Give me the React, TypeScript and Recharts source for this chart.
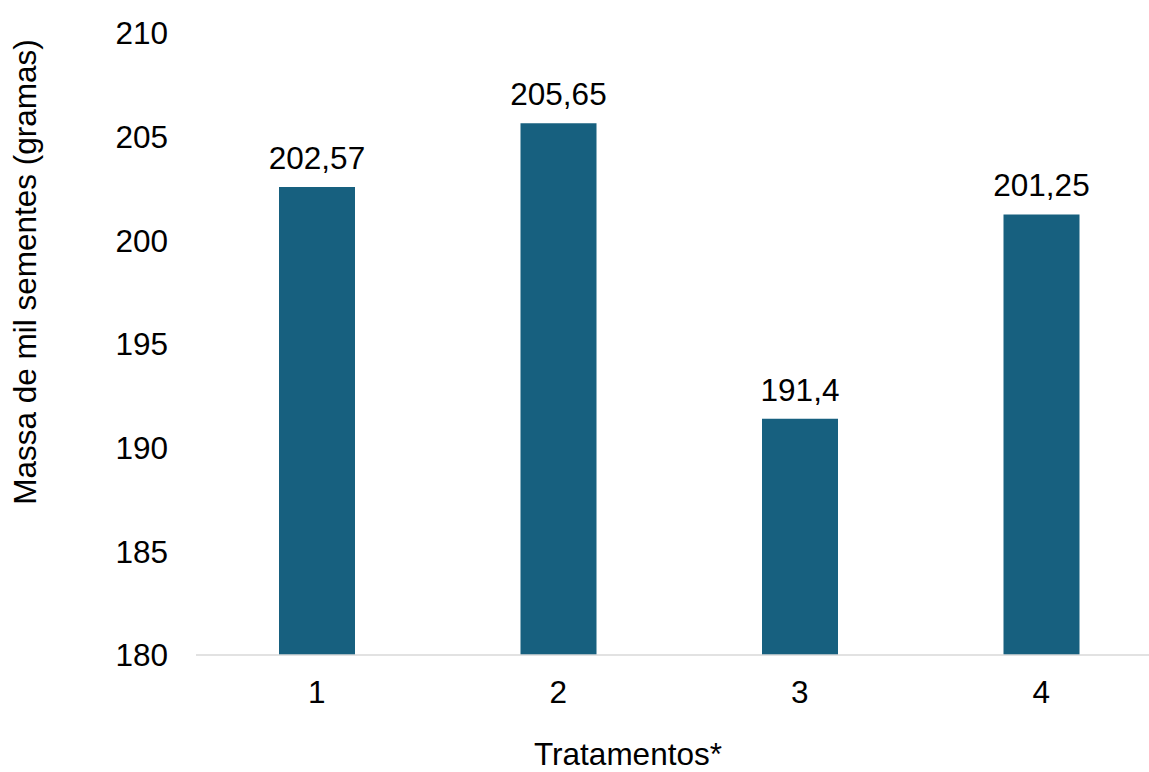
import React from "react";
import { BarChart, Bar, XAxis, YAxis, LabelList, Label } from "recharts";

const categories = ["1", "2", "3", "4"];
const values = [202.57, 205.65, 191.4, 201.25];
const yTicks = [180, 185, 190, 195, 200, 205, 210];

const data = categories.map((c, i) => ({ name: c, value: values[i] }));

const FONT = "'Liberation Sans', Arial, sans-serif";
const FS = 31.5;

const fmt = (v: any) => String(v).replace(".", ",");

export default function App() {
  return (
    <div style={{ position: "absolute", left: 0, top: 0, width: 1149, height: 772, overflow: "hidden", background: "#fff" }}>
      <BarChart
        width={1162}
        height={772}
        data={data}
        margin={{ top: 33, right: 0, left: 0, bottom: 0 }}
        barCategoryGap={0}
        style={{ fontFamily: FONT }}
      >
        <XAxis
          dataKey="name"
          height={117}
          axisLine={{ stroke: "#D9D9D9", strokeWidth: 1.5 }}
          tickLine={false}
          tickSize={0}
          tickMargin={26}
          tick={{ fill: "#000", fontSize: FS, fontFamily: FONT }}
        >
          <Label
            content={() => (
              <text x={628} y={765} textAnchor="middle" fill="#000" fontSize={FS} fontFamily={FONT}>
                Tratamentos*
              </text>
            )}
          />
        </XAxis>
        <YAxis
          width={196}
          domain={[180, 210]}
          ticks={yTicks}
          axisLine={false}
          tickLine={false}
          tickSize={0}
          tickMargin={28}
          allowDataOverflow
          tick={{ fill: "#000", fontSize: FS, fontFamily: FONT }}
        >
          <Label
            content={() => (
              <text
                x={36}
                y={272}
                transform="rotate(-90 36 272)"
                textAnchor="middle"
                fill="#000"
                fontSize={FS}
                fontFamily={FONT}
              >
                Massa de mil sementes (gramas)
              </text>
            )}
          />
        </YAxis>
        <Bar dataKey="value" fill="#17607F" barSize={76} isAnimationActive={false}>
          <LabelList
            dataKey="value"
            position="top"
            offset={18}
            formatter={fmt}
            style={{ fill: "#000", fontSize: FS, fontFamily: FONT }}
          />
        </Bar>
      </BarChart>
    </div>
  );
}
